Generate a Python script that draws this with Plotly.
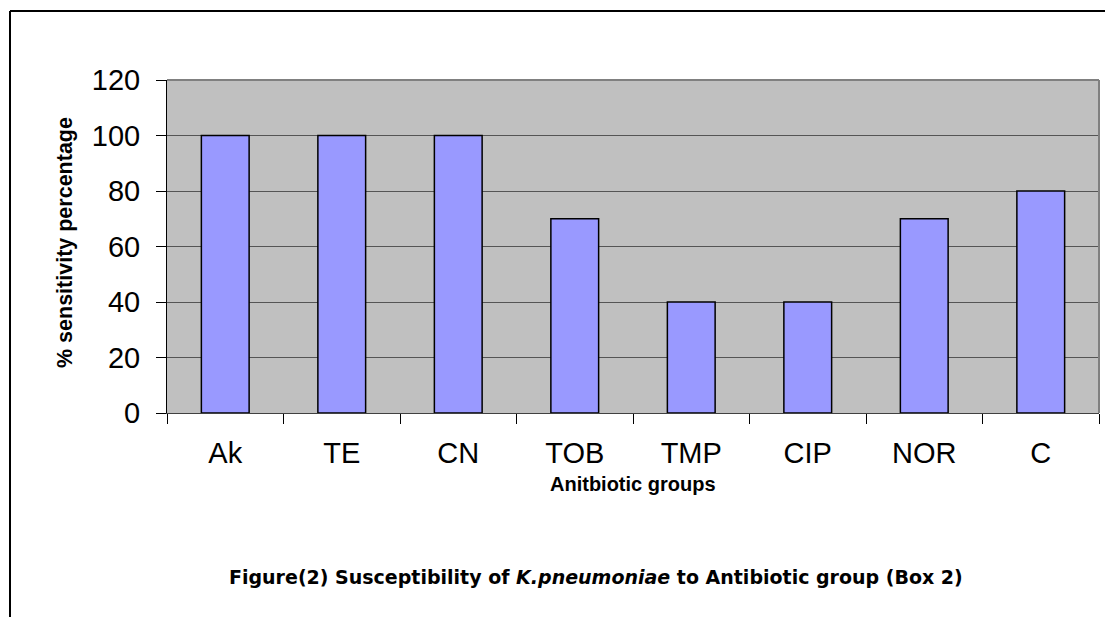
import plotly.graph_objects as go

categories = ["Ak", "TE", "CN", "TOB", "TMP", "CIP", "NOR", "C"]
values = [100, 100, 100, 70, 40, 40, 70, 80]
y_ticks = [0, 20, 40, 60, 80, 100, 120]

W, H = 1105, 617
L, R, T, B = 167, 6, 80, 204
pw, ph = W - L - R, H - T - B

def px(x):
    return (x - L) / pw

def py(y):
    return (H - B - y) / ph

FONT = "Arial, Liberation Sans, sans-serif"

fig = go.Figure(go.Bar(
    x=categories, y=values,
    marker=dict(color="#9999FF", line=dict(color="black", width=1.5)),
))

fig.update_layout(
    width=W, height=H,
    margin=dict(l=L, r=R, t=T, b=B, autoexpand=False),
    paper_bgcolor="white", plot_bgcolor="#C0C0C0",
    bargap=0.59, showlegend=False,
    font=dict(family=FONT, color="black"),
)
fig.update_yaxes(
    range=[0, 120], tickvals=y_ticks, showgrid=True, gridcolor="#555555", gridwidth=1,
    ticks="outside", ticklen=10, tickcolor="black", tickfont=dict(size=29),
    showline=True, linecolor="black", linewidth=1, zeroline=False,
    ticklabelstandoff=10,
)
fig.update_xaxes(
    range=[-0.5, 7.5], tickson="boundaries", ticks="outside", ticklen=10,
    tickcolor="black", tickfont=dict(size=29), showline=True, linecolor="#404040",
    linewidth=1, showgrid=False, ticklabelstandoff=14,
)

shapes = [
    dict(type="line", xref="paper", yref="paper", x0=0, x1=1, y0=1, y1=1,
         line=dict(color="#808080", width=2)),
    dict(type="line", xref="paper", yref="paper", x0=1, x1=1, y0=0, y1=1,
         line=dict(color="#808080", width=2)),
    dict(type="line", xref="paper", yref="paper", x0=px(10), x1=px(1106), y0=py(11), y1=py(11),
         line=dict(color="black", width=2)),
    dict(type="line", xref="paper", yref="paper", x0=px(10), x1=px(10), y0=py(11), y1=py(620),
         line=dict(color="black", width=2)),
]
fig.update_layout(shapes=shapes)

annotations = [
    dict(text="<b>% sensitivity percentage</b>", xref="paper", yref="paper",
         x=px(65), y=py(243), textangle=-90, showarrow=False,
         font=dict(size=21.5, family=FONT), xanchor="center", yanchor="middle"),
    dict(text="<b>Anitbiotic groups</b>", xref="paper", yref="paper",
         x=px(633), y=py(484), showarrow=False,
         font=dict(size=20, family=FONT), xanchor="center", yanchor="middle"),
    dict(text="<b>Figure(2) Susceptibility of <i>K.pneumoniae</i> to Antibiotic group (Box 2)</b>",
         xref="paper", yref="paper", x=px(596), y=py(577), showarrow=False,
         font=dict(size=19, family="DejaVu Sans, sans-serif"), xanchor="center", yanchor="middle"),
]
fig.update_layout(annotations=annotations)

fig.write_html("out.html", config={"displayModeBar": False},
               post_script="document.body.style.margin='0';")
